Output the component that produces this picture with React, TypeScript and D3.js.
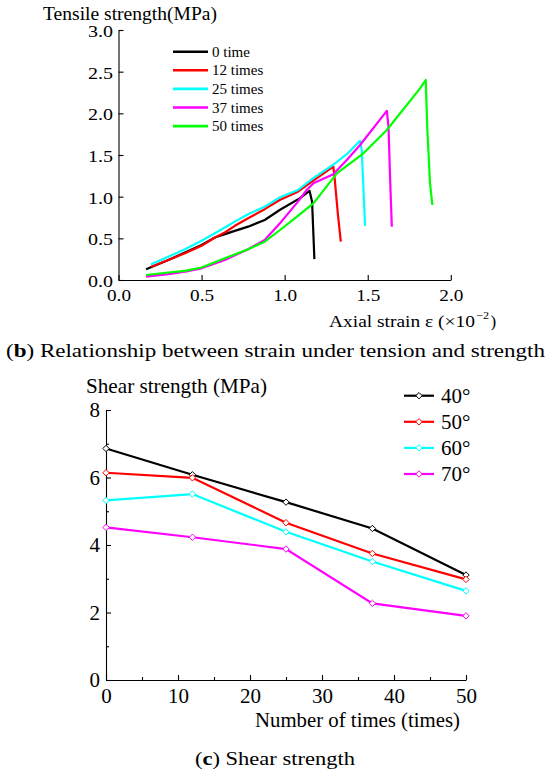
import React, { useEffect, useRef } from "react";
import * as d3 from "d3";

// ---------- Data: (b) tensile stress-strain curves ----------
const tensileNames = ["0 time", "12 times", "25 times", "37 times", "50 times"];
const tensileColors = ["#000000", "#ff0000", "#00ffff", "#ff00ff", "#00ff00"];

const curve0: [number, number][] = [
  [0.166, 0.13], [0.3, 0.24], [0.4, 0.33], [0.5, 0.42], [0.58, 0.51], [0.64, 0.55],
  [0.7, 0.59], [0.78, 0.64], [0.88, 0.72], [0.97, 0.84], [1.09, 0.98], [1.15, 1.07],
  [1.165, 0.94], [1.172, 0.6], [1.179, 0.25],
];
const curve12: [number, number][] = [
  [0.196, 0.16], [0.3, 0.24], [0.4, 0.32], [0.5, 0.41], [0.58, 0.51], [0.64, 0.57],
  [0.7, 0.65], [0.78, 0.74], [0.88, 0.85], [0.97, 0.96], [1.08, 1.06], [1.17, 1.19],
  [1.293, 1.36], [1.3, 1.24], [1.32, 0.8], [1.338, 0.46],
];
const curve25: [number, number][] = [
  [0.196, 0.19], [0.3, 0.28], [0.4, 0.37], [0.5, 0.47], [0.58, 0.56], [0.64, 0.63],
  [0.7, 0.7], [0.78, 0.79], [0.88, 0.88], [0.97, 0.99], [1.08, 1.08], [1.17, 1.22],
  [1.29, 1.38], [1.38, 1.52], [1.454, 1.67], [1.464, 1.56], [1.484, 0.65],
];
const curve37: [number, number][] = [
  [0.166, 0.04], [0.3, 0.07], [0.4, 0.1], [0.5, 0.14], [0.64, 0.24], [0.78, 0.37],
  [0.88, 0.48], [0.98, 0.7], [1.08, 0.94], [1.133, 1.08], [1.173, 1.16], [1.293, 1.27],
  [1.374, 1.44], [1.454, 1.62], [1.615, 2.03], [1.625, 1.84], [1.635, 1.2], [1.645, 0.64],
];
const curve50: [number, number][] = [
  [0.166, 0.06], [0.3, 0.09], [0.4, 0.11], [0.5, 0.15], [0.64, 0.26], [0.78, 0.37],
  [0.88, 0.46], [0.972, 0.6], [1.08, 0.77], [1.173, 0.92], [1.314, 1.28], [1.474, 1.52],
  [1.615, 1.8], [1.815, 2.3], [1.849, 2.4], [1.859, 1.8], [1.875, 1.16], [1.889, 0.9],
];
const tensileCurves = [curve0, curve12, curve25, curve37, curve50];
const strainTicks = [0, 0.5, 1.0, 1.5, 2.0];
const stressTicks = [0, 0.5, 1.0, 1.5, 2.0, 2.5, 3.0];

// ---------- Data: (c) shear strength ----------
const cycles = [0, 12, 25, 37, 50];
const shear40 = [6.86, 6.08, 5.27, 4.49, 3.11];
const shear50 = [6.14, 5.99, 4.66, 3.75, 2.98];
const shear60 = [5.32, 5.51, 4.39, 3.51, 2.64];
const shear70 = [4.52, 4.23, 3.88, 2.27, 1.9];
const shearSeries = [shear40, shear50, shear60, shear70];
const shearNames = ["40°", "50°", "60°", "70°"];
const shearColors = ["#000000", "#ff0000", "#00ffff", "#ff00ff"];
const cycleTicks = [0, 10, 20, 30, 40, 50];
const cycleMinor = [5, 15, 25, 35, 45];
const shearTicks = [0, 2, 4, 6, 8];
const shearMinor = [1, 3, 5, 7];

const FONT = "'Liberation Serif', 'Times New Roman', serif";

export default function App() {
  const x1 = d3.scaleLinear().domain([0, 2]).range([118.5, 450.8]);
  const y1 = d3.scaleLinear().domain([0, 3]).range([280, 30]);
  const x2 = d3.scaleLinear().domain([0, 50]).range([106, 466]);
  const y2 = d3.scaleLinear().domain([0, 8]).range([680, 410]);

  const gx1 = useRef<SVGGElement>(null);
  const gy1 = useRef<SVGGElement>(null);
  const gx2 = useRef<SVGGElement>(null);
  const gx2m = useRef<SVGGElement>(null);
  const gy2 = useRef<SVGGElement>(null);
  const gy2m = useRef<SVGGElement>(null);

  useEffect(() => {
    const style = (g: any, size: number) => {
      g.selectAll("path,line").attr("stroke", "#000").attr("stroke-width", 1.1);
      g.selectAll("text").attr("font-family", FONT).attr("font-size", size).attr("fill", "#000");
    };
    const a1 = d3.select(gx1.current!);
    a1.call(d3.axisBottom(x1).tickValues(strainTicks).tickFormat(d3.format(".1f")).tickSize(-5).tickSizeOuter(0).tickPadding(10));
    style(a1, 16);
    a1.selectAll("text").attr("textLength", 24).attr("lengthAdjust", "spacingAndGlyphs");

    const b1 = d3.select(gy1.current!);
    b1.call(d3.axisLeft(y1).tickValues(stressTicks).tickFormat(d3.format(".1f")).tickSize(-5).tickSizeOuter(0).tickPadding(5.5));
    style(b1, 16);
    b1.selectAll("text").attr("dy", "0.4em").attr("textLength", 25).attr("lengthAdjust", "spacingAndGlyphs");

    const a2 = d3.select(gx2.current!);
    a2.call(d3.axisBottom(x2).tickValues(cycleTicks).tickFormat(d3.format("d")).tickSize(-5).tickSizeOuter(0).tickPadding(8));
    style(a2, 21);
    const a2m = d3.select(gx2m.current!);
    a2m.call(d3.axisBottom(x2).tickValues(cycleMinor).tickFormat(() => "").tickSize(-3).tickSizeOuter(0));
    style(a2m, 21);
    a2m.select(".domain").remove();

    const b2 = d3.select(gy2.current!);
    b2.call(d3.axisLeft(y2).tickValues(shearTicks).tickFormat(d3.format("d")).tickSize(-5).tickSizeOuter(0).tickPadding(6));
    style(b2, 21);
    const b2m = d3.select(gy2m.current!);
    b2m.call(d3.axisLeft(y2).tickValues(shearMinor).tickFormat(() => "").tickSize(-3).tickSizeOuter(0));
    style(b2m, 21);
    b2m.select(".domain").remove();
  }, []);

  const line1 = d3.line<[number, number]>().x((d) => x1(d[0])).y((d) => y1(d[1]));
  const line2 = d3.line<number>().x((_, i) => x2(cycles[i])).y((d) => y2(d));
  const diamond = (cx: number, cy: number, r = 3.2) =>
    `M${cx},${cy - r}L${cx + r},${cy}L${cx},${cy + r}L${cx - r},${cy}Z`;

  return (
    <svg width={550} height={775} style={{ position: "absolute", left: 0, top: 0, background: "#fff" }} fontFamily={FONT}>
      <rect width={550} height={775} fill="#fff" />
      {/* ---------- Chart (b) ---------- */}
      <text x={43} y={20} fontSize={18} textLength={174} lengthAdjust="spacingAndGlyphs">Tensile strength(MPa)</text>
      <g ref={gx1} transform="translate(0,280)" />
      <g ref={gy1} transform="translate(118.5,0)" />
      {tensileCurves.map((c, i) => (
        <path key={i} d={line1(c) || ""} fill="none" stroke={tensileColors[i]} strokeWidth={2.2} strokeLinejoin="round" />
      ))}
      {tensileNames.map((n, i) => {
        const yy = 51.7 + i * 18.6;
        return (
          <g key={n}>
            <line x1={173} x2={208} y1={yy} y2={yy} stroke={tensileColors[i]} strokeWidth={2.6} />
            <text x={212} y={yy + 5} fontSize={15}>{n}</text>
          </g>
        );
      })}
      <text x={329} y={326.7} fontSize={17} textLength={146} lengthAdjust="spacingAndGlyphs">Axial strain ε (×10</text>
      <text x={476} y={318.5} fontSize={11} textLength={13} lengthAdjust="spacingAndGlyphs">−2</text>
      <text x={490.5} y={326.7} fontSize={17}>)</text>

      <text x={6} y={356.7} fontSize={18} textLength={539} lengthAdjust="spacingAndGlyphs">
        (<tspan fontWeight="bold">b</tspan>) Relationship between strain under tension and strength
      </text>

      {/* ---------- Chart (c) ---------- */}
      <text x={86} y={393} fontSize={21} textLength={181} lengthAdjust="spacingAndGlyphs">Shear strength (MPa)</text>
      <g ref={gx2} transform="translate(0,680)" />
      <g ref={gx2m} transform="translate(0,680)" />
      <g ref={gy2} transform="translate(106,0)" />
      <g ref={gy2m} transform="translate(106,0)" />
      {shearSeries.map((s, i) => (
        <g key={i}>
          <path d={line2(s) || ""} fill="none" stroke={shearColors[i]} strokeWidth={2.2} />
          {s.map((v, j) => (
            <path key={j} d={diamond(x2(cycles[j]), y2(v))} fill="#fff" stroke={shearColors[i]} strokeWidth={1} />
          ))}
        </g>
      ))}
      {shearNames.map((n, i) => {
        const yy = 395.7 + i * 26.1;
        return (
          <g key={n}>
            <line x1={404} x2={434} y1={yy} y2={yy} stroke={shearColors[i]} strokeWidth={2.2} />
            <path d={diamond(419, yy)} fill="#fff" stroke={shearColors[i]} strokeWidth={1} />
            <text x={441} y={yy + 7} fontSize={21}>{n}</text>
          </g>
        );
      })}
      <text x={255} y={727.3} fontSize={21} textLength={205} lengthAdjust="spacingAndGlyphs">Number of times (times)</text>
      <text x={195} y={765} fontSize={19} textLength={160} lengthAdjust="spacingAndGlyphs">
        (<tspan fontWeight="bold">c</tspan>) Shear strength
      </text>
    </svg>
  );
}
